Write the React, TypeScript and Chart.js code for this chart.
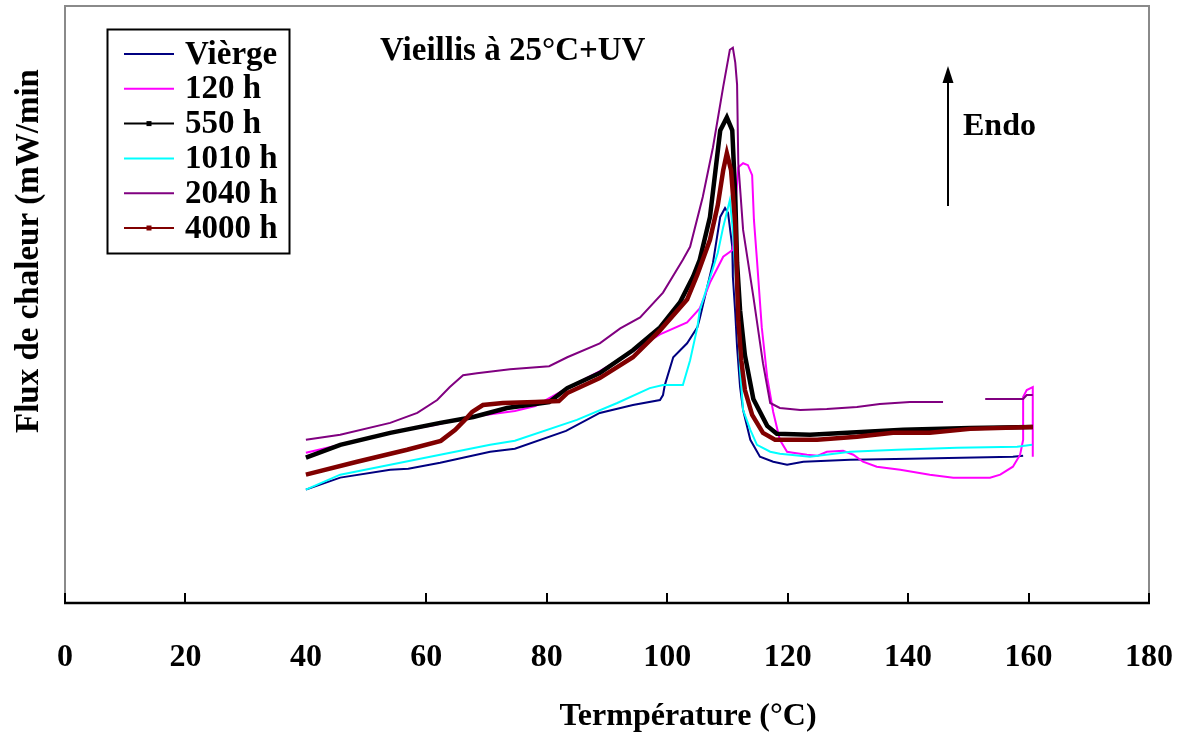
import React, { useEffect, useRef } from "react";
import { Chart, registerables } from "chart.js";

Chart.register(...registerables);

// Temperature (°C) vs heat flow (arbitrary units, no y tick labels in the original)
const seriesNames = ["Vièrge", "120 h", "550 h", "1010 h", "2040 h", "4000 h"];
const seriesColors = ["#000080", "#FF00FF", "#000000", "#00FFFF", "#800080", "#800000"];
const seriesWidths = [2, 2, 4.5, 2, 2, 4.5];
const legendMarkers = [false, false, true, false, false, true];

const vierge: [number, number | null][] = [
  [40.0, 11.4], [45.7, 12.6], [54.0, 13.4], [57.0, 13.5], [62.3, 14.1], [70.6, 15.2],
  [74.7, 15.5], [83.2, 17.3], [88.8, 19.1], [94.3, 19.9], [98.8, 20.4], [99.3, 20.9],
  [99.6, 21.9], [101.0, 24.7], [103.3, 26.1], [105.0, 27.7], [105.4, 28.6], [107.6, 34.2],
  [108.8, 38.8], [109.6, 39.7], [110.1, 39.2], [110.8, 35.8], [110.9, 32.8], [111.3, 29.1],
  [111.6, 25.7], [112.1, 21.7], [112.6, 19.4], [113.8, 16.4], [115.4, 14.7], [117.6, 14.2],
  [119.9, 13.9], [122.6, 14.2], [130.4, 14.4], [140.3, 14.5], [157.4, 14.7], [159.1, 14.8],
];

const h120: [number, number | null][] = [
  [40.0, 15.1], [45.7, 15.9], [54.0, 17.1], [61.4, 17.9], [67.3, 18.7], [74.7, 19.3],
  [78.1, 19.8], [83.4, 21.6], [88.8, 23.3], [94.3, 25.3], [98.8, 27.0], [103.3, 28.2],
  [105.4, 29.6], [107.1, 32.2], [109.3, 34.8], [110.9, 35.5], [111.4, 40.5], [111.8, 43.8],
  [112.6, 44.2], [113.4, 44.0], [114.1, 43.0], [114.4, 38.5], [114.9, 34.5], [115.7, 27.7],
  [116.6, 22.7], [117.6, 19.2], [118.7, 16.4], [119.9, 15.2], [120.9, 15.1], [123.2, 14.9],
  [125.0, 14.8], [126.5, 15.2], [129.2, 15.3], [130.9, 14.9], [132.5, 14.2], [134.8, 13.7],
  [138.7, 13.4], [143.6, 12.9], [147.5, 12.6], [153.6, 12.6], [155.3, 12.9], [157.4, 13.7],
  [158.6, 14.9], [159.1, 16.4], [159.1, 20.7], [159.7, 21.4], [160.7, 21.7], [160.7, 14.7],
];

const h550: [number, number | null][] = [
  [40.0, 14.6], [45.7, 15.9], [54.0, 17.1], [62.3, 18.1], [67.8, 18.7], [73.4, 19.6],
  [80.4, 20.2], [83.4, 21.6], [88.8, 23.1], [94.3, 25.4], [98.8, 27.7], [102.1, 30.2],
  [104.3, 32.8], [105.4, 34.5], [107.1, 38.8], [108.8, 47.5], [109.9, 48.8], [110.8, 47.5],
  [111.3, 40.8], [111.6, 34.2], [112.1, 29.4], [112.9, 24.9], [114.3, 20.5], [116.6, 17.8],
  [118.2, 17.0], [123.7, 16.9], [129.9, 17.1], [139.2, 17.4], [150.3, 17.6], [160.7, 17.7],
];

const h1010: [number, number | null][] = [
  [40.0, 11.4], [45.7, 12.9], [54.0, 13.9], [62.3, 14.9], [70.6, 15.9], [74.7, 16.3],
  [85.0, 18.4], [91.7, 20.1], [97.1, 21.6], [99.3, 21.9], [102.6, 21.9], [103.8, 24.4],
  [105.0, 27.7], [105.4, 29.4], [108.4, 35.2], [109.3, 37.8], [110.4, 40.5], [110.9, 37.5],
  [111.6, 30.5], [112.1, 23.4], [112.6, 19.4], [113.8, 17.4], [114.9, 15.9], [117.1, 15.2],
  [118.7, 15.0], [123.7, 14.7], [130.4, 15.2], [138.2, 15.4], [148.1, 15.6], [158.1, 15.7],
  [160.6, 15.9],
];

const h2040: [number, number | null][] = [
  [40.0, 16.4], [45.7, 16.9], [54.0, 18.1], [58.5, 19.1], [61.8, 20.4], [63.9, 21.7],
  [66.1, 22.9], [68.4, 23.1], [73.9, 23.5], [80.4, 23.8], [83.4, 24.7], [88.8, 26.1],
  [92.2, 27.6], [95.5, 28.7], [99.3, 31.2], [102.6, 34.5], [103.8, 35.8], [105.9, 40.8],
  [107.6, 45.8], [109.3, 51.9], [110.4, 55.6], [110.9, 55.8], [111.3, 54.3], [111.6, 52.1],
  [111.8, 44.2], [112.6, 37.5], [114.3, 30.8], [115.9, 24.1], [117.1, 20.1], [118.7, 19.6],
  [122.1, 19.4], [126.5, 19.5], [131.5, 19.7], [135.3, 20.0], [140.3, 20.2], [145.8, 20.2],
  [149.0, null], [152.8, 20.5], [159.1, 20.5], [159.7, 20.9], [160.7, 20.9],
];

const h4000: [number, number | null][] = [
  [40.0, 12.9], [48.5, 14.2], [56.8, 15.4], [62.4, 16.3], [64.8, 17.4], [66.4, 18.4],
  [67.6, 19.2], [69.4, 19.9], [72.7, 20.1], [78.1, 20.2], [82.0, 20.3], [83.4, 21.1],
  [88.8, 22.6], [94.3, 24.7], [98.8, 27.4], [103.3, 30.5], [105.0, 33.0], [107.1, 36.5],
  [108.4, 40.0], [109.3, 43.5], [109.9, 45.2], [110.6, 43.5], [111.3, 38.0], [111.8, 28.4],
  [112.3, 24.4], [112.9, 21.4], [114.1, 18.9], [115.9, 17.1], [117.9, 16.4], [124.9, 16.4],
  [131.5, 16.7], [137.5, 17.1], [143.6, 17.1], [150.3, 17.5], [160.7, 17.7],
];

const allSeries = [vierge, h120, h550, h1010, h2040, h4000];

const xTicks = [0, 20, 40, 60, 80, 100, 120, 140, 160, 180];
const xMin = 0;
const xMax = 180;
const yMin = 0;
const yMax = 60;

const titleText = "Vieillis à 25°C+UV";
const endoText = "Endo";
const xTitle = "Termpérature (°C)";
const yTitle = "Flux de chaleur (mW/min";

const SERIF = '"Liberation Serif", "Times New Roman", serif';

const decorPlugin = {
  id: "decor",
  afterDraw(chart: any) {
    const ctx = chart.ctx as CanvasRenderingContext2D;
    const { left, right, top, bottom } = chart.chartArea;
    const xs = chart.scales.x;
    ctx.save();

    // plot frame (grey) on left, top, right
    ctx.strokeStyle = "#8a8a8a";
    ctx.lineWidth = 2;
    ctx.beginPath();
    ctx.moveTo(left, bottom);
    ctx.lineTo(left, top);
    ctx.lineTo(right, top);
    ctx.lineTo(right, bottom);
    ctx.stroke();

    // x axis line
    ctx.strokeStyle = "#000";
    ctx.lineWidth = 2.5;
    ctx.beginPath();
    ctx.moveTo(left - 1, bottom);
    ctx.lineTo(right + 1, bottom);
    ctx.stroke();

    // inward tick marks
    ctx.lineWidth = 2;
    xTicks.forEach((t) => {
      if (t === 40) return;
      const px = Math.round(xs.getPixelForValue(t));
      ctx.beginPath();
      ctx.moveTo(px, bottom);
      ctx.lineTo(px, bottom - 10);
      ctx.stroke();
    });

    ctx.fillStyle = "#000";
    ctx.textBaseline = "middle";

    // title inside plot
    ctx.font = `bold 33px ${SERIF}`;
    ctx.textAlign = "left";
    ctx.fillText(titleText, 380, 51);

    // Endo + arrow
    ctx.font = `bold 32px ${SERIF}`;
    ctx.fillText(endoText, 963, 127);
    ctx.lineWidth = 2;
    ctx.beginPath();
    ctx.moveTo(948, 206);
    ctx.lineTo(948, 80);
    ctx.stroke();
    ctx.beginPath();
    ctx.moveTo(948, 66);
    ctx.lineTo(942.5, 83);
    ctx.lineTo(953.5, 83);
    ctx.closePath();
    ctx.fill();

    // legend
    ctx.lineWidth = 2;
    ctx.strokeStyle = "#000";
    ctx.strokeRect(107.5, 29.5, 182, 224);
    ctx.font = `bold 33px ${SERIF}`;
    seriesNames.forEach((name, i) => {
      const y = 54 + i * 34.8;
      ctx.strokeStyle = seriesColors[i];
      ctx.lineWidth = 2;
      ctx.beginPath();
      ctx.moveTo(124, y);
      ctx.lineTo(174, y);
      ctx.stroke();
      if (legendMarkers[i]) {
        ctx.fillStyle = seriesColors[i];
        ctx.fillRect(146.5, y - 2.5, 5, 5);
      }
      ctx.fillStyle = "#000";
      ctx.fillText(name, 185, y + 1);
    });

    // x title
    ctx.font = `bold 32px ${SERIF}`;
    ctx.textAlign = "center";
    ctx.fillText(xTitle, 688, 717);

    // y title
    ctx.save();
    ctx.translate(29, 251);
    ctx.rotate(-Math.PI / 2);
    ctx.font = `bold 33px ${SERIF}`;
    ctx.fillText(yTitle, 0, 0);
    ctx.restore();

    ctx.restore();
  },
};

export default function App() {
  const canvasRef = useRef<HTMLCanvasElement | null>(null);

  useEffect(() => {
    if (!canvasRef.current) return;
    const chart = new Chart(canvasRef.current, {
      type: "scatter",
      data: {
        datasets: allSeries.map((s, i) => ({
          label: seriesNames[i],
          data: s.map(([x, y]) => ({ x, y })),
          showLine: true,
          borderColor: seriesColors[i],
          backgroundColor: seriesColors[i],
          borderWidth: seriesWidths[i],
          pointRadius: 0,
          tension: 0,
          spanGaps: false,
          order: allSeries.length - i,
        })),
      },
      options: {
        responsive: false,
        animation: false,
        devicePixelRatio: 1,
        layout: { padding: { left: 65, right: 31, top: 6, bottom: 0 } },
        plugins: {
          legend: { display: false },
          tooltip: { enabled: false },
          title: { display: false },
        },
        scales: {
          x: {
            type: "linear",
            min: xMin,
            max: xMax,
            afterFit: (s: any) => {
              s.height = 135;
              s.paddingLeft = 0;
              s.paddingRight = 0;
            },
            afterBuildTicks: (s: any) => {
              s.ticks = xTicks.map((v) => ({ value: v }));
            },
            ticks: {
              color: "#000",
              padding: 36,
              maxRotation: 0,
              autoSkip: false,
              font: { family: SERIF, size: 32, weight: "bold" },
            },
            grid: { display: false, drawTicks: false },
            border: { display: false },
          },
          y: {
            type: "linear",
            display: false,
            min: yMin,
            max: yMax,
          },
        },
      },
      plugins: [decorPlugin],
    } as any);
    return () => chart.destroy();
  }, []);

  return (
    <div style={{ position: "fixed", left: 0, top: 0, width: 1180, height: 738, background: "#fff" }}>
      <canvas ref={canvasRef} width={1180} height={738} />
    </div>
  );
}
